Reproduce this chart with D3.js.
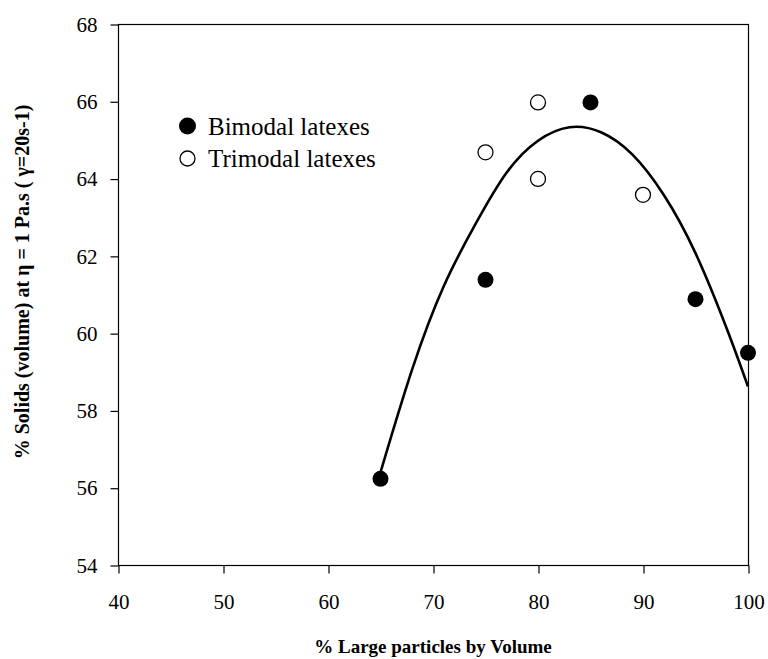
<!DOCTYPE html>
<html>
<head>
<meta charset="utf-8">
<script src="https://cdn.jsdelivr.net/npm/d3@7"></script>
<style>
  html, body { margin: 0; padding: 0; background: #fff; }
  svg { display: block; }
  svg text { font-family: "Liberation Serif", "Times New Roman", serif; fill: #000; }
</style>
</head>
<body>
<svg id="chart" width="768" height="659"></svg>
<script>
// ---- data ----
const xTicks = [40, 50, 60, 70, 80, 90, 100];
const yTicks = [54, 56, 58, 60, 62, 64, 66, 68];

const bimodalX = [65, 75, 85, 95, 100];
const bimodalY = [56.23, 61.38, 65.97, 60.88, 59.49];

const trimodalX = [75, 80, 80, 90];
const trimodalY = [64.68, 65.97, 63.99, 63.58];

// fitted trend line
const fitX = [65, 68, 71, 74, 77, 80, 83, 86, 89, 92, 95, 98, 100];
const fitY = [56.4, 59.05, 61.2, 62.8, 64.15, 64.98, 65.33, 65.2, 64.62, 63.57, 62.07, 60.1, 58.62];

const legendLabels = ["Bimodal latexes", "Trimodal latexes"];
const xTitle = "% Large particles by Volume";
const yTitle = "% Solids (volume) at \u03B7 = 1 Pa.s ( \u03B3=20s-1)";

// ---- layout ----
const svg = d3.select("#chart");
const L = 118, R = 748, T = 24, B = 565;

const x = d3.scaleLinear().domain([40, 100]).range([L, R]);
const y = d3.scaleLinear().domain([54, 68]).range([B, T]);

// frame
svg.append("rect")
  .attr("x", L + 0.5).attr("y", T + 0.5)
  .attr("width", R - L).attr("height", B - T)
  .attr("fill", "none").attr("stroke", "#000").attr("stroke-width", 1.2);

// x axis
const xAxis = d3.axisBottom(x).tickValues(xTicks).tickSize(8).tickPadding(21).tickFormat(d3.format("d"));
const gx = svg.append("g").attr("transform", `translate(0.5,${B + 0.5})`).call(xAxis);
gx.attr("font-family", null).attr("font-size", null);
gx.select(".domain").remove();
gx.selectAll("line").attr("stroke", "#000").attr("stroke-width", 1.2);
gx.selectAll("text").attr("font-size", 21).attr("font-family", "Liberation Serif");

// y axis
const yAxis = d3.axisLeft(y).tickValues(yTicks).tickSize(8).tickPadding(13).tickFormat(d3.format("d"));
const gy = svg.append("g").attr("transform", `translate(${L + 0.5},0.5)`).call(yAxis);
gy.attr("font-family", null).attr("font-size", null);
gy.select(".domain").remove();
gy.selectAll("line").attr("stroke", "#000").attr("stroke-width", 1.2);
gy.selectAll("text").attr("font-size", 21).attr("font-family", "Liberation Serif");

// fitted curve
const fitData = fitX.map((d, i) => [d, fitY[i]]);
const line = d3.line().x(d => x(d[0])).y(d => y(d[1])).curve(d3.curveNatural);
svg.append("path").datum(fitData)
  .attr("d", line)
  .attr("fill", "none").attr("stroke", "#000").attr("stroke-width", 2.6);

// markers
const bData = bimodalX.map((d, i) => [d, bimodalY[i]]);
const tData = trimodalX.map((d, i) => [d, trimodalY[i]]);

svg.append("g").selectAll("circle").data(tData).join("circle")
  .attr("cx", d => x(d[0])).attr("cy", d => y(d[1])).attr("r", 7.5)
  .attr("fill", "#fff").attr("stroke", "#000").attr("stroke-width", 1.3);

svg.append("g").selectAll("circle").data(bData).join("circle")
  .attr("cx", d => x(d[0])).attr("cy", d => y(d[1])).attr("r", 8)
  .attr("fill", "#000");

// legend
const lg = svg.append("g");
const legY = [126, 158.5];
lg.append("circle").attr("cx", 187.5).attr("cy", legY[0]).attr("r", 8.5).attr("fill", "#000");
lg.append("circle").attr("cx", 187.5).attr("cy", legY[1]).attr("r", 7.5)
  .attr("fill", "#fff").attr("stroke", "#000").attr("stroke-width", 1.3);
legendLabels.forEach((t, i) => {
  lg.append("text").attr("x", 208).attr("y", legY[i]).attr("dy", "0.35em")
    .attr("font-size", 25).text(t);
});

// axis titles
svg.append("text").attr("x", 433).attr("y", 653)
  .attr("text-anchor", "middle")
  .attr("font-size", 19).attr("font-weight", "bold")
  .text(xTitle);

svg.append("text")
  .attr("transform", `translate(29,${282}) rotate(-90)`)
  .attr("text-anchor", "middle")
  .attr("font-size", 20).attr("font-weight", "bold")
  .text(yTitle);
</script>
</body>
</html>
